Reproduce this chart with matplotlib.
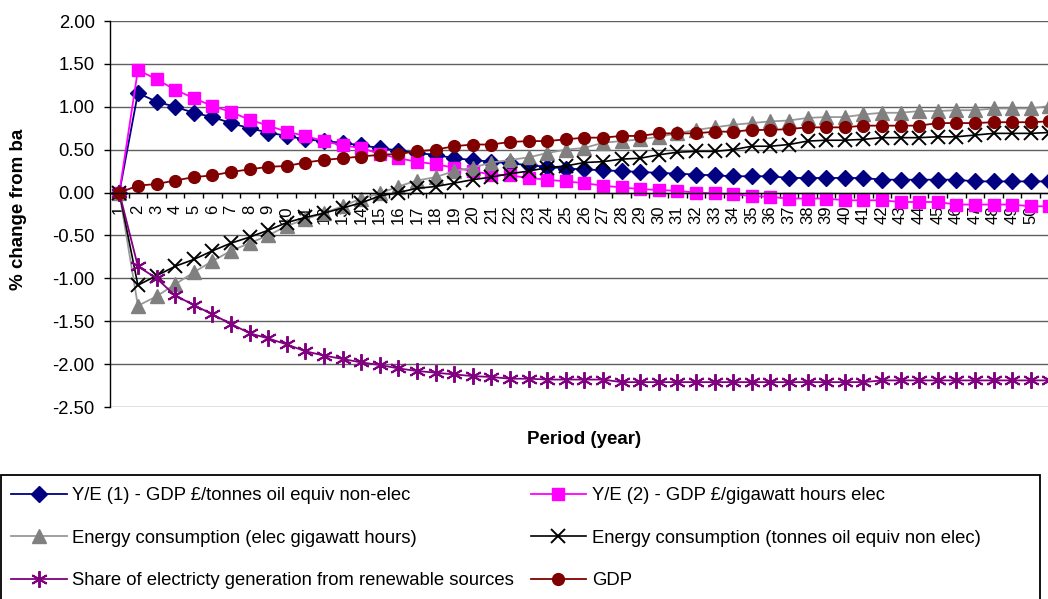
import matplotlib
matplotlib.use("Agg")
import matplotlib.pyplot as plt
from matplotlib.patches import Rectangle
from matplotlib.ticker import FuncFormatter, MultipleLocator, FixedLocator

plt.rcParams['font.family'] = ['Liberation Sans', 'DejaVu Sans']
plt.rcParams['axes.unicode_minus'] = False

periods = list(range(1, 52))

ye_non_elec = [0.00, 1.16, 1.06, 1.00, 0.93, 0.88, 0.81, 0.75, 0.70, 0.66,
               0.62, 0.60, 0.58, 0.55, 0.52, 0.49, 0.46, 0.44, 0.40, 0.38,
               0.36, 0.34, 0.32, 0.30, 0.28, 0.27, 0.26, 0.25, 0.24, 0.23,
               0.22, 0.21, 0.20, 0.19, 0.19, 0.19, 0.17, 0.17, 0.17, 0.17,
               0.17, 0.15, 0.15, 0.15, 0.15, 0.15, 0.13, 0.13, 0.13, 0.13, 0.13]

ye_elec = [0.00, 1.43, 1.32, 1.20, 1.10, 1.01, 0.94, 0.85, 0.78, 0.71,
           0.66, 0.60, 0.55, 0.52, 0.45, 0.40, 0.36, 0.33, 0.29, 0.25,
           0.21, 0.20, 0.17, 0.15, 0.13, 0.11, 0.08, 0.06, 0.04, 0.03,
           0.02, 0.00, -0.01, -0.02, -0.04, -0.05, -0.07, -0.07, -0.07, -0.09,
           -0.09, -0.09, -0.11, -0.11, -0.11, -0.14, -0.14, -0.14, -0.14, -0.16, -0.16]

energy_elec = [0.00, -1.32, -1.21, -1.07, -0.93, -0.80, -0.68, -0.59, -0.50, -0.39,
               -0.31, -0.24, -0.16, -0.07, -0.01, 0.07, 0.14, 0.18, 0.25, 0.29,
               0.35, 0.38, 0.41, 0.46, 0.50, 0.52, 0.58, 0.60, 0.62, 0.65,
               0.69, 0.73, 0.76, 0.79, 0.81, 0.83, 0.84, 0.87, 0.88, 0.88,
               0.91, 0.93, 0.93, 0.95, 0.95, 0.96, 0.96, 0.98, 0.98, 0.98, 1.01]

energy_non_elec = [0.00, -1.08, -0.97, -0.86, -0.78, -0.68, -0.59, -0.52, -0.44, -0.35,
                   -0.29, -0.24, -0.18, -0.12, -0.04, 0.00, 0.05, 0.07, 0.11, 0.15,
                   0.18, 0.22, 0.25, 0.29, 0.31, 0.35, 0.36, 0.39, 0.40, 0.44,
                   0.47, 0.48, 0.48, 0.50, 0.54, 0.54, 0.56, 0.60, 0.61, 0.61,
                   0.62, 0.64, 0.64, 0.64, 0.65, 0.65, 0.67, 0.69, 0.69, 0.69, 0.70]

renewable_share = [0.00, -0.86, -1.00, -1.20, -1.31, -1.42, -1.53, -1.64, -1.70, -1.77,
                   -1.85, -1.90, -1.94, -1.98, -2.01, -2.05, -2.08, -2.10, -2.12, -2.14,
                   -2.15, -2.17, -2.17, -2.18, -2.18, -2.18, -2.18, -2.21, -2.21, -2.21,
                   -2.21, -2.21, -2.21, -2.21, -2.21, -2.21, -2.21, -2.21, -2.21, -2.21,
                   -2.21, -2.19, -2.19, -2.19, -2.19, -2.19, -2.19, -2.19, -2.19, -2.19, -2.19]

gdp = [0.00, 0.08, 0.10, 0.14, 0.18, 0.20, 0.24, 0.27, 0.30, 0.31,
       0.35, 0.38, 0.40, 0.42, 0.44, 0.45, 0.48, 0.50, 0.54, 0.56,
       0.56, 0.59, 0.60, 0.60, 0.62, 0.64, 0.64, 0.66, 0.66, 0.69,
       0.69, 0.69, 0.71, 0.71, 0.73, 0.73, 0.74, 0.76, 0.76, 0.76,
       0.78, 0.78, 0.78, 0.78, 0.81, 0.81, 0.81, 0.82, 0.82, 0.82, 0.83]

labels = ["Y/E (1) - GDP £/tonnes oil equiv non-elec",
          "Y/E (2) - GDP £/gigawatt hours elec",
          "Energy consumption (elec gigawatt hours)",
          "Energy consumption (tonnes oil equiv non elec)",
          "Share of electricty generation from renewable sources",
          "GDP"]

W, H = 1048, 599
fig = plt.figure(figsize=(W / 100, H / 100), dpi=100)
# plot area runs slightly past the right edge of the figure
ax = fig.add_axes([110 / W, 1 - 407 / H, 51 * 18.6 / W, 386 / H])

asterisk = (6, 2, 0)
series = [
    (ye_non_elec, dict(color='#000080', marker='D', ms=8, lw=1.3)),
    (ye_elec, dict(color='#FF00FF', marker='s', ms=8.5, lw=1.3)),
    (energy_elec, dict(color='#999999', marker='^', ms=9.5, lw=1.3, mfc='#808080', mec='#808080')),
    (energy_non_elec, dict(color='black', marker='x', ms=9.5, mew=1.4, lw=1.2)),
    (renewable_share, dict(color='#800080', marker=asterisk, ms=12, mew=1.4, lw=1.3)),
    (gdp, dict(color='#800000', marker='o', ms=8.5, lw=1.3)),
]
handles = []
for (vals, style), lab in zip(series, labels):
    h, = ax.plot(periods, vals, label=lab, clip_on=False, **style)
    handles.append(h)

ax.set_xlim(0.5, 51.5)
ax.set_ylim(-2.5, 2.0)
ax.yaxis.set_major_locator(MultipleLocator(0.5))
ax.yaxis.set_major_formatter(FuncFormatter(lambda v, p: f"{v:.2f}"))
ax.grid(True, axis='y', color='#606060', lw=1.0)
ax.set_axisbelow(True)

for s in ['top', 'right']:
    ax.spines[s].set_visible(False)
ax.spines['bottom'].set_position(('data', 0))
ax.spines['bottom'].set_linewidth(1.0)
ax.spines['left'].set_linewidth(1.0)

# the last period sits on the figure edge, so its label is left off
tick_labels = [str(p) for p in periods[:-1]] + [""]
ax.xaxis.set_major_locator(FixedLocator(periods))
ax.xaxis.set_minor_locator(FixedLocator([p + 0.5 for p in periods]))
ax.set_xticklabels(tick_labels, rotation=90, fontsize=12)
ax.tick_params(axis='x', which='major', length=0, pad=9)
ax.tick_params(axis='x', which='minor', length=3.5, width=1, direction='out')
ax.tick_params(axis='y', length=4, width=1, labelsize=13.3, pad=7)

fig.text(584 / W, 1 - 440 / H, "Period (year)", ha='center', va='center',
         fontsize=13.5, fontweight='bold')
fig.text(19 / W, 1 - 209 / H, "% change from ba", ha='center', va='center',
         rotation=90, fontsize=13.5, fontweight='bold')

# legend box with its frame drawn separately
fig.patches.append(Rectangle((1 / W, -0.02), 1039 / W, 0.02 + (H - 475) / H,
                             transform=fig.transFigure, fill=False,
                             edgecolor='black', lw=1.3))
order = [0, 2, 4, 1, 3, 5]
fig.legend([handles[i] for i in order], [labels[i] for i in order],
           loc='upper left', bbox_to_anchor=(2 / W, 1 - 478 / H), ncol=2,
           frameon=False, fontsize=13.3, handlelength=3.0, handletextpad=0.3,
           columnspacing=0.9, labelspacing=1.38, borderpad=0.5,
           borderaxespad=0)

fig.savefig("out.png", dpi=100)
